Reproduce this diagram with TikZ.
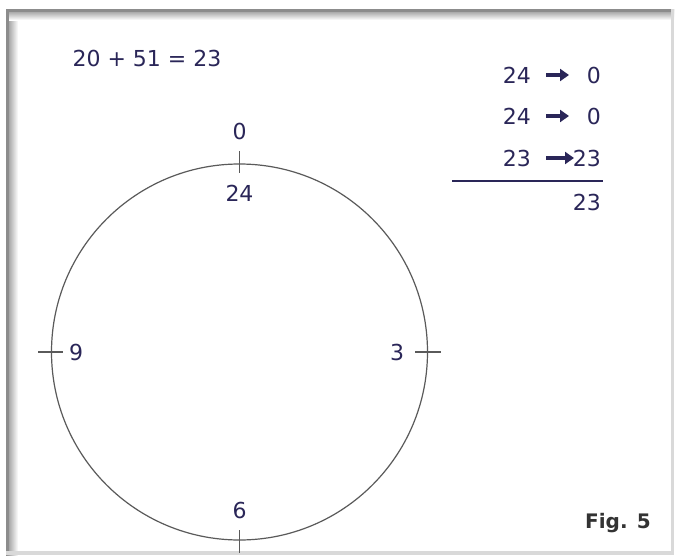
\documentclass[tikz,border=0pt]{standalone}
\usepackage{fontspec}
\setmainfont{DejaVu Sans}
\usetikzlibrary{arrows.meta}
\definecolor{ink}{HTML}{2A2658}
\definecolor{circ}{HTML}{5A5A5A}
\tikzset{
  lbl/.style={text=ink, font=\fontsize{22}{26}\selectfont, inner sep=0pt},
  tick/.style={draw=circ, line width=1.1pt},
  arr/.style={draw=ink, line width=3.6pt, -{Triangle[length=9pt,width=12pt]}},
}
\begin{document}
\begin{tikzpicture}[x=1pt,y=-1pt]
\useasboundingbox (0,0) rectangle (678,557);
\fill[white] (0,0) rectangle (678,557);
% frame
\fill[white] (6,9) rectangle (674,555);
\shade[left color=gray!90, right color=white] (6,9) rectangle (18,555);
\shade[top color=gray!90, bottom color=white] (6,9) rectangle (674,20);
\fill[gray!90] (6,9) rectangle (9,555);
\fill[gray!90] (6,9) rectangle (674,12);
\fill[gray!30] (671,9) rectangle (674,555);
\fill[gray!30] (6,551) rectangle (674,555);
% circle
\coordinate (c) at (239.5,352);
\draw[circ, line width=1.2pt] (c) circle (188);
\coordinate (t1) at (239.5,151); \coordinate (t2) at (239.5,173);
\coordinate (b1) at (239.5,530); \coordinate (b2) at (239.5,553);
\coordinate (l1) at (38,352); \coordinate (l2) at (63,352);
\coordinate (r1) at (415,352); \coordinate (r2) at (441,352);
\draw[tick] (t1) -- (t2);
\draw[tick] (b1) -- (b2);
\draw[tick] (l1) -- (l2);
\draw[tick] (r1) -- (r2);
\node[lbl] (n0) at (239.5,131) {0};
\node[lbl] (n24) at (239.5,193) {24};
\node[lbl] (n9) at (76,352) {9};
\node[lbl] (n3) at (397,352) {3};
\node[lbl] (n6) at (239.5,510) {6};
\node[lbl] (eq) at (147,58) {20 + 51 = 23};
% right column
\node[lbl, anchor=east] (a1) at (531,75) {24};
\node[lbl, anchor=east] (a2) at (531,116) {24};
\node[lbl, anchor=east] (a3) at (531,158) {23};
\node[lbl, anchor=east] (b1n) at (601,75) {0};
\node[lbl, anchor=east] (b2n) at (601,116) {0};
\node[lbl, anchor=east] (b3n) at (601,158) {23};
\coordinate (s1) at (546,75); \coordinate (e1) at (569,75);
\coordinate (s2) at (546,116); \coordinate (e2) at (569,116);
\coordinate (s3) at (546,158); \coordinate (e3) at (574,158);
\draw[arr] (s1) -- (e1);
\draw[arr] (s2) -- (e2);
\draw[arr] (s3) -- (e3);
\coordinate (h1) at (452,181); \coordinate (h2) at (603,181);
\draw[ink, line width=1.8pt] (h1) -- (h2);
\node[lbl, anchor=east] (res) at (601,202) {23};
\node[lbl, text=black!80, anchor=east, font=\fontsize{20}{24}\selectfont\bfseries] (fig) at (651,523) {Fig. 5};
\end{tikzpicture}
\end{document}
